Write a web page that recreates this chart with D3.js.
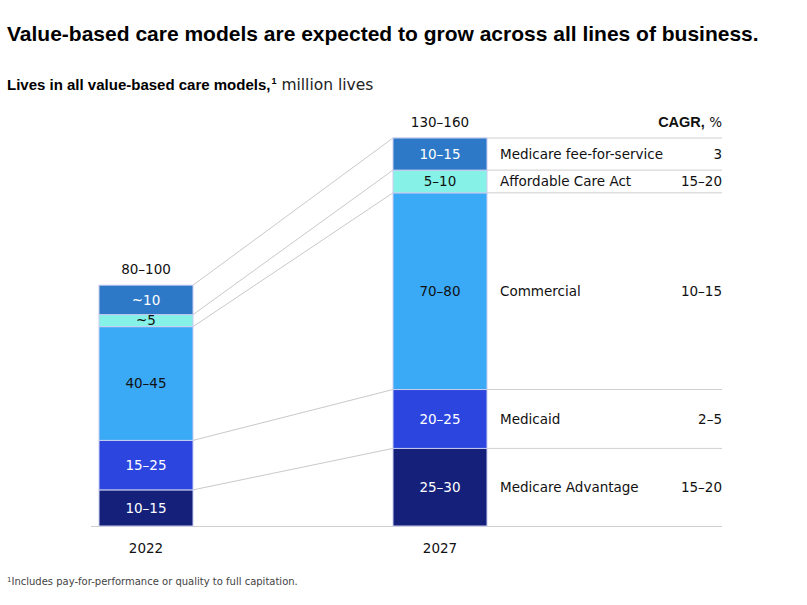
<!DOCTYPE html>
<html>
<head>
<meta charset="utf-8">
<script src="https://cdn.jsdelivr.net/npm/d3@7"></script>
<style>
  body { margin: 0; background: #fff; }
  svg { font-family: "DejaVu Sans", sans-serif; }
  .bold { font-family: "Liberation Sans", Arial, sans-serif; font-weight: 700; }
</style>
</head>
<body>
<div id="chart"></div>
<script>
// Stacked bars, bottom to top
const years = ["2022", "2027"];
const categories = ["Medicare Advantage", "Medicaid", "Commercial", "Affordable Care Act", "Medicare fee-for-service"];
const values2022 = [13.5, 18.5, 42.5, 4.5, 11];
const values2027 = [29, 22, 73.5, 8.5, 12];
const labels2022 = ["10–15", "15–25", "40–45", "~5", "~10"];
const labels2027 = ["25–30", "20–25", "70–80", "5–10", "10–15"];
const totals = ["80–100", "130–160"];
const cagr = ["15–20", "2–5", "10–15", "15–20", "3"];
const colors = ["#14207a", "#2c45df", "#3aa9f6", "#86f1e6", "#2d79c8"];
const textColors = ["#fff", "#fff", "#111", "#111", "#fff"];

const width = 807, height = 605;
const svg = d3.select("#chart").append("svg")
    .attr("width", width)
    .attr("height", height);

// scales
const y = d3.scaleLinear().domain([0, 145]).range([526, 138]);
const x = d3.scalePoint().domain(years).range([146, 440]);
const barW = 94;
const tableRight = 722;
const fs = 13.5;

// stack each year
function stackUp(vals, labels) {
    let acc = 0;
    return vals.map((v, i) => {
        const d = { i, y0: acc, y1: acc + v, label: labels[i] };
        acc += v;
        return d;
    });
}
const stacks = [stackUp(values2022, labels2022), stackUp(values2027, labels2027)];

// title
svg.append("text")
    .attr("class", "bold")
    .attr("x", 7).attr("y", 41)
    .attr("font-size", 21).attr("fill", "#000")
    .text("Value-based care models are expected to grow across all lines of business.");

const sub = svg.append("text")
    .attr("x", 7).attr("y", 90)
    .attr("font-size", 15).attr("fill", "#000");
sub.append("tspan").attr("class", "bold").text("Lives in all value-based care models,");
sub.append("tspan").attr("class", "bold").attr("font-size", 9).attr("dy", -6).attr("dx", 1).text("1");
sub.append("tspan").attr("dy", 6).attr("font-size", 15.5).attr("fill", "#222").text(" million lives");

// connector lines between bars
const s0 = stacks[0], s1 = stacks[1];
const x0r = x("2022") + barW / 2, x1l = x("2027") - barW / 2;
svg.append("g").selectAll("line")
    .data(s0)
    .join("line")
    .attr("x1", x0r).attr("x2", x1l)
    .attr("y1", d => y(d.y1))
    .attr("y2", d => y(s1[d.i].y1))
    .attr("stroke", "#c9c9c9").attr("stroke-width", 1);

// table row lines
svg.append("line")
    .attr("x1", x1l).attr("x2", tableRight)
    .attr("y1", y(s1[4].y1)).attr("y2", y(s1[4].y1))
    .attr("stroke", "#cfcfcf");
svg.append("g").selectAll("line")
    .data(s1.slice(0, 4))
    .join("line")
    .attr("x1", x1l + barW).attr("x2", tableRight)
    .attr("y1", d => y(d.y1)).attr("y2", d => y(d.y1))
    .attr("stroke", "#cfcfcf");

// baseline
svg.append("line")
    .attr("x1", x("2022") - barW / 2 - 8).attr("x2", tableRight)
    .attr("y1", y(0) + 0.5).attr("y2", y(0) + 0.5)
    .attr("stroke", "#cfcfcf");

// bars
years.forEach((yr, k) => {
    const g = svg.append("g");
    g.selectAll("rect")
        .data(stacks[k])
        .join("rect")
        .attr("x", x(yr) - barW / 2)
        .attr("width", barW)
        .attr("y", d => y(d.y1))
        .attr("height", d => y(d.y0) - y(d.y1))
        .attr("fill", d => colors[d.i])
        .attr("stroke", "#c9cdf0").attr("stroke-width", 1);
    g.selectAll("text")
        .data(stacks[k])
        .join("text")
        .attr("x", x(yr))
        .attr("y", d => (y(d.y0) + y(d.y1)) / 2)
        .attr("dy", "0.36em")
        .attr("text-anchor", "middle")
        .attr("font-size", fs)
        .attr("fill", d => textColors[d.i])
        .text(d => d.label);

    // totals
    svg.append("text")
        .attr("x", x(yr))
        .attr("y", y(stacks[k][4].y1) - 11)
        .attr("text-anchor", "middle")
        .attr("font-size", fs).attr("fill", "#111")
        .text(totals[k]);

    // year labels
    svg.append("text")
        .attr("x", x(yr)).attr("y", 553)
        .attr("text-anchor", "middle")
        .attr("font-size", fs).attr("fill", "#111")
        .text(yr);
});

// category and CAGR labels
const rows = svg.append("g");
rows.selectAll("text.cat")
    .data(s1)
    .join("text")
    .attr("class", "cat")
    .attr("x", 500)
    .attr("y", d => (y(d.y0) + y(d.y1)) / 2)
    .attr("dy", "0.36em")
    .attr("font-size", fs).attr("fill", "#111")
    .text(d => categories[d.i]);
rows.selectAll("text.cagr")
    .data(s1)
    .join("text")
    .attr("class", "cagr")
    .attr("x", tableRight)
    .attr("y", d => (y(d.y0) + y(d.y1)) / 2)
    .attr("dy", "0.36em")
    .attr("text-anchor", "end")
    .attr("font-size", fs).attr("fill", "#111")
    .text(d => cagr[d.i]);

const hdr = svg.append("text")
    .attr("x", tableRight).attr("y", y(s1[4].y1) - 11)
    .attr("text-anchor", "end")
    .attr("font-size", fs).attr("fill", "#111");
hdr.append("tspan").attr("class", "bold").attr("font-size", 14.5).text("CAGR,");
hdr.append("tspan").text(" %");

// footnote
const fn = svg.append("text")
    .attr("x", 7).attr("y", 585)
    .attr("font-size", 10).attr("fill", "#444");
fn.append("tspan").attr("font-size", 7).attr("dy", -3).text("1");
fn.append("tspan").attr("dy", 3).text("Includes pay-for-performance or quality to full capitation.");
</script>
</body>
</html>
